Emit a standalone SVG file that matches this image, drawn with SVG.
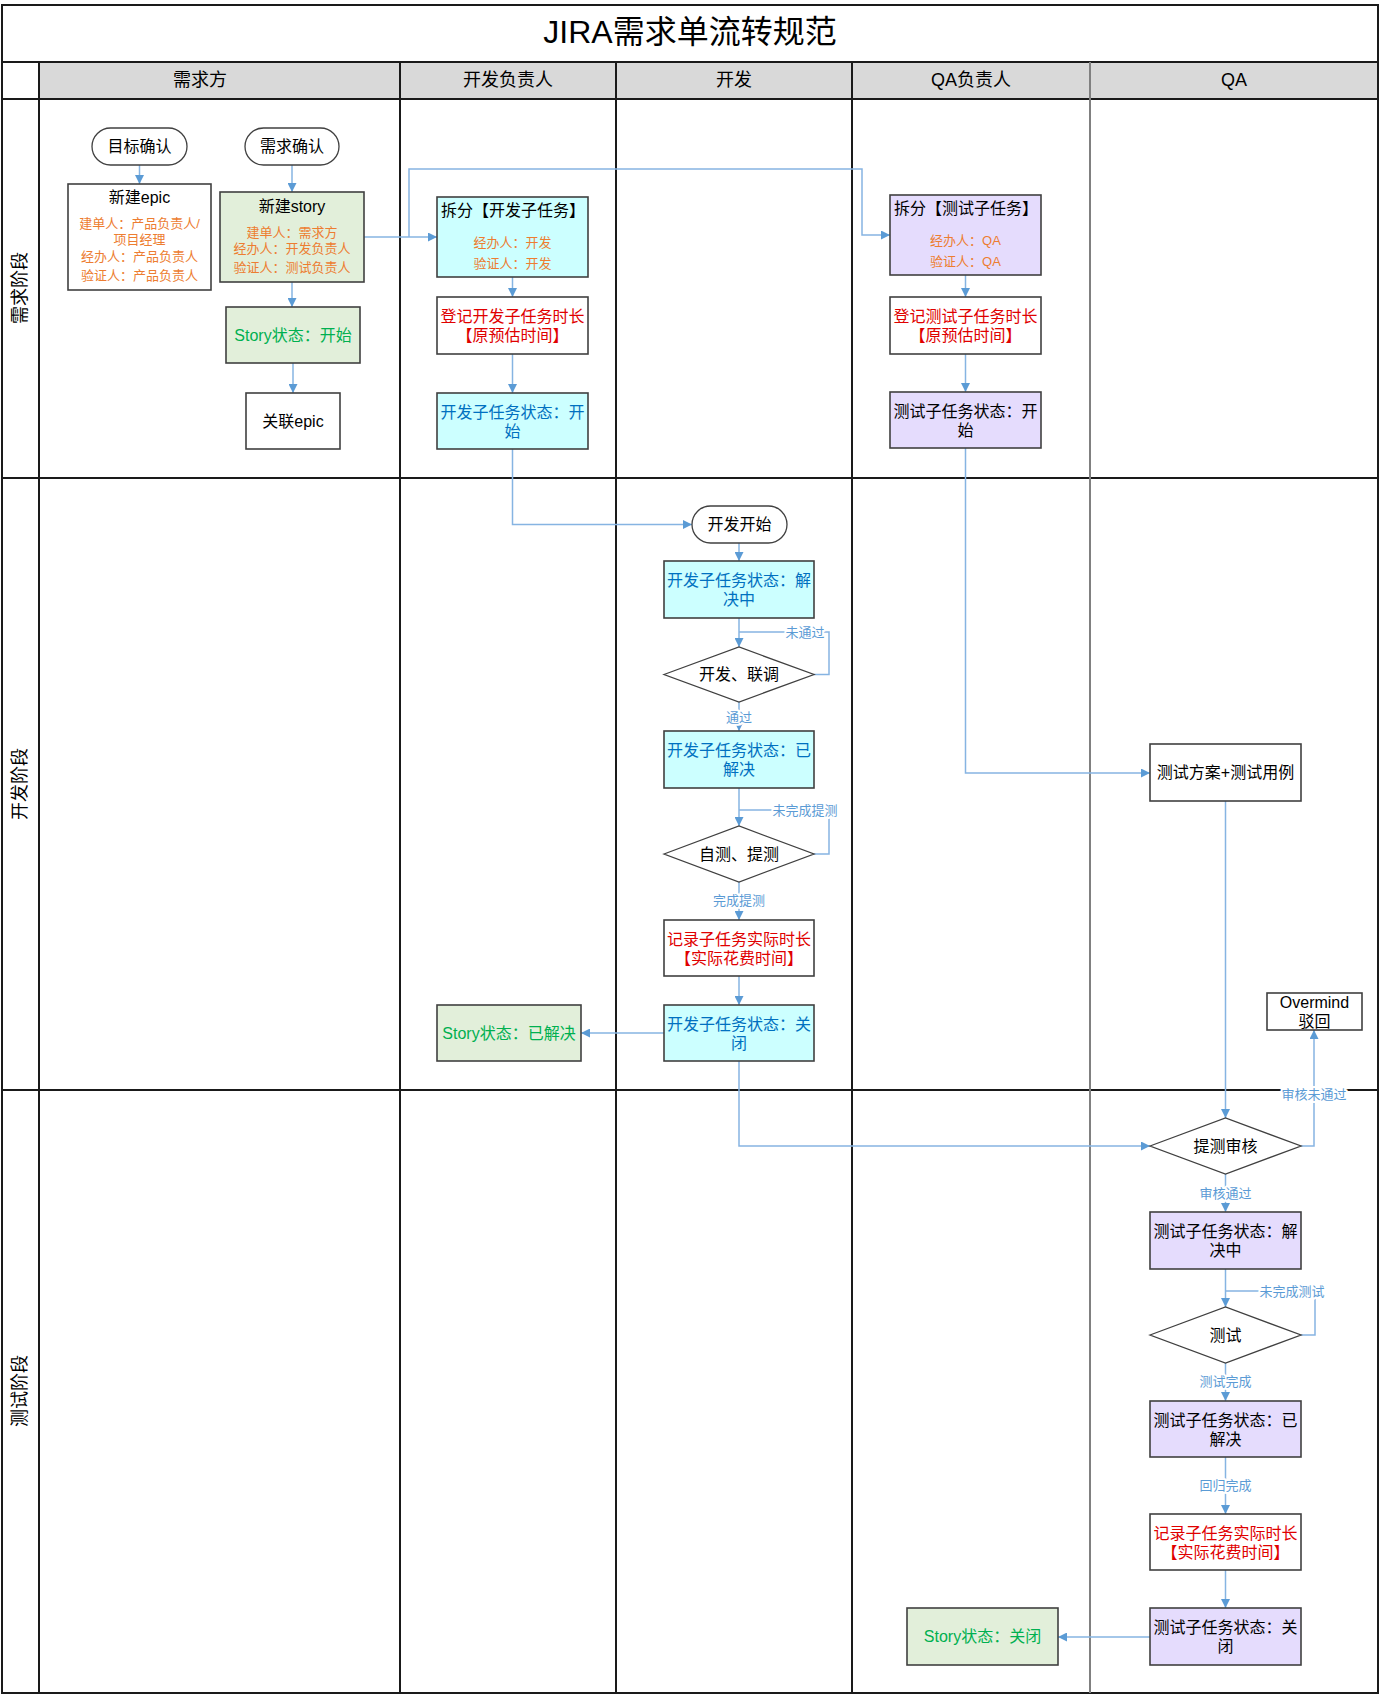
<svg xmlns="http://www.w3.org/2000/svg" width="1380" height="1695" viewBox="0 0 1380 1695">
<defs>
<marker id="a" viewBox="0 0 10 10" refX="10" refY="5" markerWidth="10" markerHeight="9" markerUnits="userSpaceOnUse" orient="auto">
<path d="M0,0 L10,5 L0,10 z" fill="#5b9bd5"/>
</marker>
<style>
.n{fill:#fff;stroke:#404040;stroke-width:1.6}
.cy{fill:#ccffff}
.lv{fill:#e5dcfd}
.gr{fill:#e2efda}
.t{font-family:"Liberation Sans","Noto Sans CJK SC",sans-serif;font-size:16px;fill:#000;text-anchor:middle;dominant-baseline:central}
.l{text-anchor:start}
.or{fill:#ed7d31;font-size:13px}
.rd{fill:#e00000}
.bl{fill:#0070c0}
.gn{fill:#00b050}
.h{font-size:18px}
.c{fill:none;stroke:#86b4e2;stroke-width:1.5}
.lb{font-size:13px;fill:#5b9bd5;stroke:#fff;stroke-width:4;paint-order:stroke;stroke-linejoin:round}
.ln{stroke:#1a1a1a;stroke-width:2;fill:none}
.lg{stroke:#808080;stroke-width:2;fill:none}
</style>
</defs>
<rect width="1380" height="1695" fill="#fff"/>
<g id="frame">
<rect x="39" y="62" width="1339" height="37" fill="#d9d9d9"/>
<rect x="2" y="5" width="1376" height="1688" class="ln"/>
<line x1="2" y1="62" x2="1378" y2="62" class="ln"/>
<line x1="2" y1="99" x2="1378" y2="99" class="ln"/>
<line x1="2" y1="478" x2="1378" y2="478" class="ln"/>
<line x1="2" y1="1090" x2="1378" y2="1090" class="ln"/>
<line x1="39" y1="62" x2="39" y2="1693" class="ln"/>
<line x1="400" y1="62" x2="400" y2="1693" class="ln"/>
<line x1="616" y1="62" x2="616" y2="1693" class="ln"/>
<line x1="852" y1="62" x2="852" y2="1693" class="ln"/>
<line x1="1090" y1="62" x2="1090" y2="1693" class="lg"/>
<text x="690" y="32" class="t" style="font-size:32px">JIRA需求单流转规范</text>
<text x="200" y="80" class="t h">需求方</text>
<text x="508" y="80" class="t h">开发负责人</text>
<text x="734" y="80" class="t h">开发</text>
<text x="971" y="80" class="t h">QA负责人</text>
<text x="1234" y="80" class="t h">QA</text>
<text class="t h" transform="translate(20,288) rotate(-90)">需求阶段</text>
<text class="t h" transform="translate(20,784) rotate(-90)">开发阶段</text>
<text class="t h" transform="translate(20,1391) rotate(-90)">测试阶段</text>
</g>
<g id="connectors">
<path class="c" d="M139.5,165 V184" marker-end="url(#a)"/>
<path class="c" d="M292,165 V192" marker-end="url(#a)"/>
<path class="c" d="M292,282 V307" marker-end="url(#a)"/>
<path class="c" d="M293,363 V393" marker-end="url(#a)"/>
<path class="c" d="M364,237 H437" marker-end="url(#a)"/>
<path class="c" d="M409,237 V169 H862 V235 H890" marker-end="url(#a)"/>
<path class="c" d="M512.5,277 V297" marker-end="url(#a)"/>
<path class="c" d="M512.5,354 V393" marker-end="url(#a)"/>
<path class="c" d="M512.5,449 V524.5 H692" marker-end="url(#a)"/>
<path class="c" d="M965.5,275 V297" marker-end="url(#a)"/>
<path class="c" d="M965.5,354 V392" marker-end="url(#a)"/>
<path class="c" d="M739,543 V561" marker-end="url(#a)"/>
<path class="c" d="M739,618 V647" marker-end="url(#a)"/>
<path class="c" d="M814,674.5 H829 V632 H739"/>
<path class="c" d="M739,702 V731" marker-end="url(#a)"/>
<path class="c" d="M739,788 V826" marker-end="url(#a)"/>
<path class="c" d="M814,854 H829 V810 H739"/>
<path class="c" d="M739,882 V920" marker-end="url(#a)"/>
<path class="c" d="M739,976 V1005" marker-end="url(#a)"/>
<path class="c" d="M664,1033 H581" marker-end="url(#a)"/>
<path class="c" d="M739,1061 V1146 H1150" marker-end="url(#a)"/>
<path class="c" d="M965.5,448 V773 H1150" marker-end="url(#a)"/>
<path class="c" d="M1225.5,801 V1118" marker-end="url(#a)"/>
<path class="c" d="M1301,1146 H1314 V1030" marker-end="url(#a)"/>
<path class="c" d="M1225.5,1174 V1212" marker-end="url(#a)"/>
<path class="c" d="M1225.5,1269 V1307" marker-end="url(#a)"/>
<path class="c" d="M1301,1335 H1315 V1291 H1225.5"/>
<path class="c" d="M1225.5,1363 V1401" marker-end="url(#a)"/>
<path class="c" d="M1225.5,1457 V1514" marker-end="url(#a)"/>
<path class="c" d="M1225.5,1570 V1608" marker-end="url(#a)"/>
<path class="c" d="M1150,1637 H1058" marker-end="url(#a)"/>
<text x="805" y="632" class="t lb">未通过</text>
<text x="739" y="717" class="t lb">通过</text>
<text x="805" y="810" class="t lb">未完成提测</text>
<text x="739" y="900" class="t lb">完成提测</text>
<text x="1314" y="1094" class="t lb">审核未通过</text>
<text x="1225.5" y="1193" class="t lb">审核通过</text>
<text x="1292" y="1291" class="t lb">未完成测试</text>
<text x="1225.5" y="1381" class="t lb">测试完成</text>
<text x="1225.5" y="1485" class="t lb">回归完成</text>
</g>
<g id="goal-confirm">
<rect x="92" y="128" width="95" height="37" rx="18.5" class="n" style="stroke-width:1.3"/>
<text x="139.5" y="146.5" class="t">目标确认</text>
</g>
<g id="req-confirm">
<rect x="245" y="128" width="94" height="37" rx="18.5" class="n" style="stroke-width:1.3"/>
<text x="292" y="146.5" class="t">需求确认</text>
</g>
<g id="new-epic">
<rect x="68" y="184" width="143" height="106" class="n"/>
<text x="139.5" y="197" class="t">新建epic</text>
<text class="t or"><tspan x="139.5" y="223">建单人：产品负责人/</tspan><tspan x="139.5" y="239">项目经理</tspan><tspan x="139.5" y="256">经办人：产品负责人</tspan><tspan x="139.5" y="275">验证人：产品负责人</tspan></text>
</g>
<g id="new-story">
<rect x="220" y="192" width="144" height="90" class="n gr"/>
<text x="292" y="206" class="t">新建story</text>
<text class="t or"><tspan x="292" y="232">建单人：需求方</tspan><tspan x="292" y="248">经办人：开发负责人</tspan><tspan x="292" y="267">验证人：测试负责人</tspan></text>
</g>
<g id="story-start">
<rect x="226" y="307" width="134" height="56" class="n gr"/>
<text x="293" y="335" class="t gn">Story状态：开始</text>
</g>
<g id="link-epic">
<rect x="246" y="393" width="94" height="56" class="n"/>
<text x="293" y="421" class="t">关联epic</text>
</g>
<g id="split-dev">
<rect x="437" y="197" width="151" height="80" class="n cy"/>
<text x="441" y="210" class="t l">拆分【开发子任务】</text>
<text class="t or"><tspan x="512.5" y="242">经办人：开发</tspan><tspan x="512.5" y="263">验证人：开发</tspan></text>
</g>
<g id="log-dev-time">
<rect x="437" y="297" width="151" height="57" class="n"/>
<text class="t rd"><tspan x="512.5" y="316">登记开发子任务时长</tspan><tspan x="512.5" y="335">【原预估时间】</tspan></text>
</g>
<g id="dev-task-start">
<rect x="437" y="393" width="151" height="56" class="n cy"/>
<text class="t bl"><tspan x="512.5" y="411.5">开发子任务状态：开</tspan><tspan x="512.5" y="430.5">始</tspan></text>
</g>
<g id="split-test">
<rect x="890" y="195" width="151" height="80" class="n lv"/>
<text x="894" y="208" class="t l">拆分【测试子任务】</text>
<text class="t or"><tspan x="965.5" y="240">经办人：QA</tspan><tspan x="965.5" y="261">验证人：QA</tspan></text>
</g>
<g id="log-test-time">
<rect x="890" y="297" width="151" height="57" class="n"/>
<text class="t rd"><tspan x="965.5" y="316">登记测试子任务时长</tspan><tspan x="965.5" y="335">【原预估时间】</tspan></text>
</g>
<g id="test-task-start">
<rect x="890" y="392" width="151" height="56" class="n lv"/>
<text class="t"><tspan x="965.5" y="410.5">测试子任务状态：开</tspan><tspan x="965.5" y="429.5">始</tspan></text>
</g>
<g id="dev-begin">
<rect x="692" y="506" width="95" height="37" rx="18.5" class="n" style="stroke-width:1.3"/>
<text x="739.5" y="524.5" class="t">开发开始</text>
</g>
<g id="dev-task-inprogress">
<rect x="664" y="561" width="150" height="57" class="n cy"/>
<text class="t bl"><tspan x="739" y="580">开发子任务状态：解</tspan><tspan x="739" y="599">决中</tspan></text>
</g>
<g id="dev-integrate">
<polygon points="664,674.5 739,647 814,674.5 739,702" class="n" style="stroke-width:1.3"/>
<text x="739" y="674.5" class="t">开发、联调</text>
</g>
<g id="dev-task-resolved">
<rect x="664" y="731" width="150" height="57" class="n cy"/>
<text class="t bl"><tspan x="739" y="750">开发子任务状态：已</tspan><tspan x="739" y="769">解决</tspan></text>
</g>
<g id="self-test">
<polygon points="664,854 739,826 814,854 739,882" class="n" style="stroke-width:1.3"/>
<text x="739" y="854" class="t">自测、提测</text>
</g>
<g id="dev-actual-time">
<rect x="664" y="920" width="150" height="56" class="n"/>
<text class="t rd"><tspan x="739" y="938.5">记录子任务实际时长</tspan><tspan x="739" y="957.5">【实际花费时间】</tspan></text>
</g>
<g id="dev-task-closed">
<rect x="664" y="1005" width="150" height="56" class="n cy"/>
<text class="t bl"><tspan x="739" y="1023.5">开发子任务状态：关</tspan><tspan x="739" y="1042.5">闭</tspan></text>
</g>
<g id="story-resolved">
<rect x="437" y="1005" width="144" height="56" class="n gr"/>
<text x="509" y="1033" class="t gn">Story状态：已解决</text>
</g>
<g id="test-plan">
<rect x="1150" y="744" width="151" height="57" class="n"/>
<text x="1225.5" y="772.5" class="t">测试方案+测试用例</text>
</g>
<g id="overmind-reject">
<rect x="1267" y="993" width="95" height="37" class="n"/>
<text class="t"><tspan x="1314.5" y="1002">Overmind</tspan><tspan x="1314.5" y="1021">驳回</tspan></text>
</g>
<g id="review">
<polygon points="1150,1146 1225.5,1118 1301,1146 1225.5,1174" class="n" style="stroke-width:1.3"/>
<text x="1225.5" y="1146" class="t">提测审核</text>
</g>
<g id="test-task-inprogress">
<rect x="1150" y="1212" width="151" height="57" class="n lv"/>
<text class="t"><tspan x="1225.5" y="1231">测试子任务状态：解</tspan><tspan x="1225.5" y="1250">决中</tspan></text>
</g>
<g id="testing">
<polygon points="1150,1335 1225.5,1307 1301,1335 1225.5,1363" class="n" style="stroke-width:1.3"/>
<text x="1225.5" y="1335" class="t">测试</text>
</g>
<g id="test-task-resolved">
<rect x="1150" y="1401" width="151" height="56" class="n lv"/>
<text class="t"><tspan x="1225.5" y="1419.5">测试子任务状态：已</tspan><tspan x="1225.5" y="1438.5">解决</tspan></text>
</g>
<g id="test-actual-time">
<rect x="1150" y="1514" width="151" height="56" class="n"/>
<text class="t rd"><tspan x="1225.5" y="1532.5">记录子任务实际时长</tspan><tspan x="1225.5" y="1551.5">【实际花费时间】</tspan></text>
</g>
<g id="test-task-closed">
<rect x="1150" y="1608" width="151" height="57" class="n lv"/>
<text class="t"><tspan x="1225.5" y="1627">测试子任务状态：关</tspan><tspan x="1225.5" y="1646">闭</tspan></text>
</g>
<g id="story-closed">
<rect x="907" y="1608" width="151" height="57" class="n gr"/>
<text x="982.5" y="1636.5" class="t gn">Story状态：关闭</text>
</g>
</svg>
